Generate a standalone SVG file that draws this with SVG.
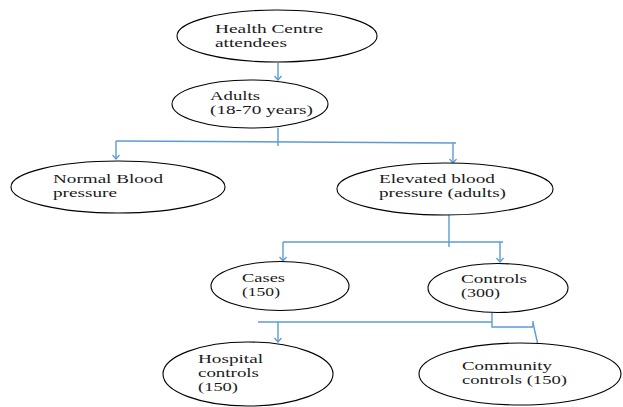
<svg xmlns="http://www.w3.org/2000/svg" width="623" height="407" viewBox="0 0 623 407">
<defs>
<style>
.n{fill:#fff;stroke:#000;stroke-width:1.1}
.t{font-family:"Liberation Serif","Times New Roman",serif;font-size:13px;fill:#1a1a1a}
.c{fill:none;stroke:#5b9bd5;stroke-width:1.4}
</style>
<marker id="v" markerUnits="userSpaceOnUse" markerWidth="10" markerHeight="10" refX="5" refY="8" viewBox="0 0 10 10">
<path d="M1.5,4 L5,8 L8.5,4" fill="none" stroke="#5b9bd5" stroke-width="1.3"/>
</marker>
</defs>
<rect width="623" height="407" fill="#fff"/>
<g id="connectors">
<path class="c" d="M278,63 V80" marker-end="url(#v)"/>
<path class="c" d="M278,128 V146"/>
<path class="c" d="M116,141 L456,143"/>
<path class="c" d="M116,141 V159" marker-end="url(#v)"/>
<path class="c" d="M453,143 V163" marker-end="url(#v)"/>
<path class="c" d="M449,215 V247"/>
<path class="c" d="M283,242 H503"/>
<path class="c" d="M283,242 V261" marker-end="url(#v)"/>
<path class="c" d="M500,242 V262" marker-end="url(#v)"/>
<path class="c" d="M258,322 H492"/>
<path class="c" d="M278,322 V342" marker-end="url(#v)"/>
<path class="c" d="M492,294 V327 H533"/>
<path class="c" d="M533,321 V327"/>
<path class="c" d="M533,323 L538,345"/>
</g>
<g id="health">
<ellipse class="n" cx="277" cy="36" rx="100" ry="26"/>
<text class="t" x="215" y="33" textLength="108" lengthAdjust="spacingAndGlyphs">Health Centre</text>
<text class="t" x="215" y="47" textLength="72" lengthAdjust="spacingAndGlyphs">attendees</text>
</g>
<g id="adults">
<ellipse class="n" cx="250" cy="104" rx="78" ry="24"/>
<text class="t" x="210" y="100" textLength="50" lengthAdjust="spacingAndGlyphs">Adults</text>
<text class="t" x="210" y="114" textLength="103" lengthAdjust="spacingAndGlyphs">(18-70 years)</text>
</g>
<g id="normal">
<ellipse class="n" cx="118" cy="187" rx="107" ry="26"/>
<text class="t" x="53" y="183" textLength="110" lengthAdjust="spacingAndGlyphs">Normal Blood</text>
<text class="t" x="53" y="197" textLength="64" lengthAdjust="spacingAndGlyphs">pressure</text>
</g>
<g id="elevated">
<ellipse class="n" cx="445" cy="189" rx="108" ry="26"/>
<text class="t" x="379" y="183" textLength="116" lengthAdjust="spacingAndGlyphs">Elevated blood</text>
<text class="t" x="379" y="197" textLength="127" lengthAdjust="spacingAndGlyphs">pressure (adults)</text>
</g>
<g id="cases">
<ellipse class="n" cx="280" cy="286" rx="69" ry="24.5"/>
<text class="t" x="242" y="282" textLength="43" lengthAdjust="spacingAndGlyphs">Cases</text>
<text class="t" x="242" y="296" textLength="38" lengthAdjust="spacingAndGlyphs">(150)</text>
</g>
<g id="controls">
<ellipse class="n" cx="498" cy="288" rx="70" ry="24.5"/>
<text class="t" x="461" y="283" textLength="66" lengthAdjust="spacingAndGlyphs">Controls</text>
<text class="t" x="461" y="297" textLength="39" lengthAdjust="spacingAndGlyphs">(300)</text>
</g>
<g id="hospital">
<ellipse class="n" cx="248" cy="374" rx="85" ry="32"/>
<text class="t" x="198" y="363" textLength="65" lengthAdjust="spacingAndGlyphs">Hospital</text>
<text class="t" x="198" y="377" textLength="61" lengthAdjust="spacingAndGlyphs">controls</text>
<text class="t" x="198" y="391" textLength="40" lengthAdjust="spacingAndGlyphs">(150)</text>
</g>
<g id="community">
<ellipse class="n" cx="520" cy="374" rx="101" ry="31"/>
<text class="t" x="462" y="370" textLength="90" lengthAdjust="spacingAndGlyphs">Community</text>
<text class="t" x="462" y="384" textLength="105" lengthAdjust="spacingAndGlyphs">controls (150)</text>
</g>
</svg>
